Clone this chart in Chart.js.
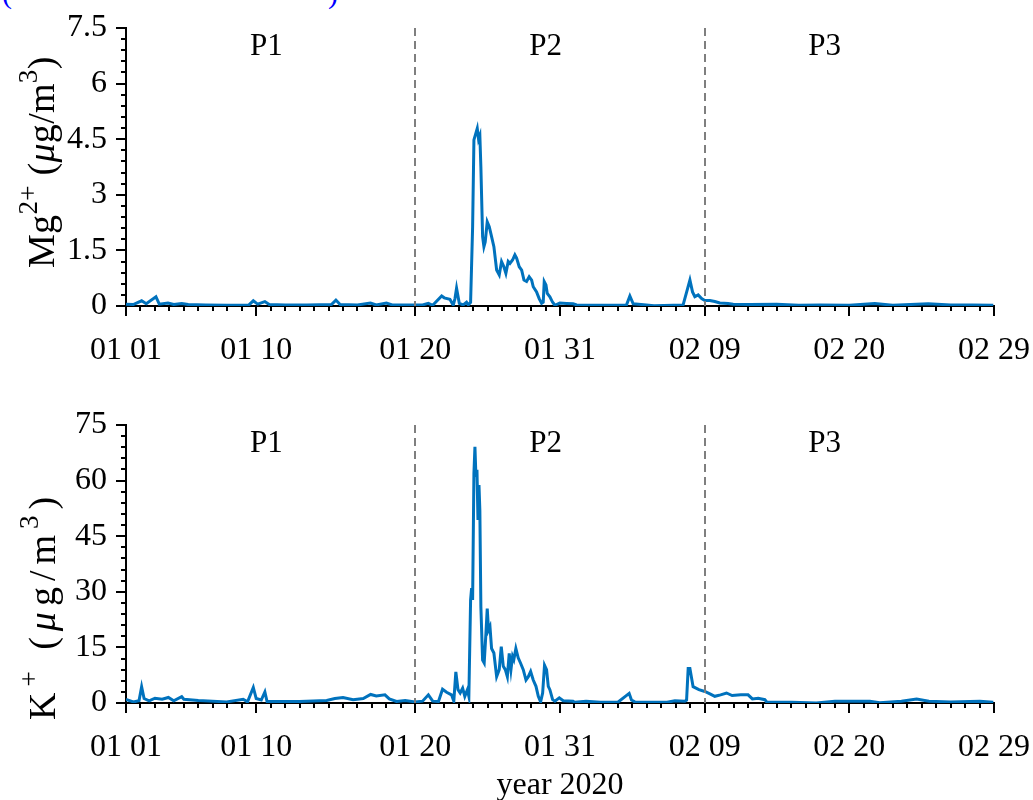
<!DOCTYPE html>
<html>
<head>
<meta charset="utf-8">
<script src="https://cdn.jsdelivr.net/npm/chart.js@4"></script>
<style>
  body { margin: 0; background: #fff; }
  #wrap { position: relative; width: 1033px; height: 800px; overflow: hidden; }
  canvas { position: absolute; left: 0; }
  #grafica1 { top: 0; }
  #grafica2 { top: 400px; }
  .frag { position: absolute; top: -24px; color: #0000ff; font: 30px "Liberation Serif", serif; }
</style>
</head>
<body>
<div id="wrap">
  <div class="frag" style="left:2px">(</div>
  <div class="frag" style="left:328px">)</div>
  <canvas id="grafica1" width="1033" height="400"></canvas>
  <canvas id="grafica2" width="1033" height="400"></canvas>
</div>
<script>
// eje x: dias desde 01 01
const tickDias = [0, 9, 20, 30, 40, 50, 60];
const tickEtiquetas = ['01 01', '01 10', '01 20', '01 31', '02 09', '02 20', '02 29'];
const periodosCortes = [20, 40];
const periodosNombres = ['P1', 'P2', 'P3'];
const periodosCentros = [9.7, 29.0, 48.3];

// Mg2+
const mgTicks = [0, 1.5, 3, 4.5, 6, 7.5];
const mgTickEtiquetas = ['0', '1.5', '3', '4.5', '6', '7.5'];
const mgDias = [0, 0.5, 1.08, 1.4, 2.07, 2.3, 2.9, 3.3, 3.85, 4.3, 5.5, 7, 8.5, 8.8, 9.1, 9.6, 9.9, 11, 12.5, 14.2, 14.51, 14.8, 16, 16.9, 17.3, 18.0, 18.4, 19.5, 20.5, 20.9, 21.2,
  21.82, 22.0, 22.39, 22.62, 22.74, 22.85, 23.04, 23.31, 23.54, 23.66, 23.82, 23.96, 24.05, 24.28, 24.37, 24.46, 24.53, 24.65, 24.74, 24.83, 24.97, 25.11, 25.27, 25.43,
  25.62, 25.8, 25.96, 26.12, 26.26, 26.42, 26.54, 26.72, 26.88, 27.0, 27.18, 27.35, 27.51, 27.69, 27.87, 28.04, 28.15, 28.38, 28.56, 28.73, 28.84, 28.91, 29.03, 29.12,
  29.3, 29.49, 29.65, 29.99, 30.46, 30.91, 31.15, 33, 34.6, 34.83, 35.06, 36.5, 38.51, 38.79, 38.98, 39.16, 39.32, 39.55, 39.79, 40.01, 40.36, 40.7, 41.05, 41.62, 41.97,
  43.12, 44.97, 46.5, 48, 50, 51.76, 53, 55.45, 57, 58.5, 59.95];
const mgValores = [0.05, 0.04, 0.14, 0.06, 0.25, 0.05, 0.08, 0.04, 0.07, 0.04, 0.03, 0.02, 0.03, 0.14, 0.05, 0.12, 0.04, 0.03, 0.03, 0.04, 0.16, 0.04, 0.03, 0.08, 0.03, 0.08, 0.03, 0.03, 0.03, 0.07, 0.02,
  0.27, 0.22, 0.18, 0.02, 0.2, 0.48, 0.07, 0.03, 0.1, 0.03, 0.1, 2.14, 4.48, 4.79, 4.5, 4.6, 3.76, 1.87, 1.6, 1.73, 2.27, 2.14, 1.87, 1.6,
  0.97, 0.84, 1.2, 1.06, 0.88, 1.2, 1.15, 1.24, 1.38, 1.29, 1.06, 0.97, 0.7, 0.66, 0.79, 0.7, 0.52, 0.38, 0.2, 0.07, 0.1, 0.66, 0.57, 0.34,
  0.25, 0.1, 0.02, 0.08, 0.07, 0.06, 0.03, 0.02, 0.03, 0.27, 0.06, 0.01, 0.03, 0.43, 0.7, 0.38, 0.25, 0.3, 0.2, 0.15, 0.15, 0.12, 0.08, 0.07, 0.05,
  0.04, 0.05, 0.02, 0.03, 0.02, 0.07, 0.02, 0.06, 0.03, 0.03, 0.02];

// K+
const kTicks = [0, 15, 30, 45, 60, 75];
const kTickEtiquetas = ['0', '15', '30', '45', '60', '75'];
const kDias = [0, 0.5, 0.9, 1.08, 1.25, 1.6, 2.0, 2.5, 2.93, 3.3, 3.85, 4.0, 5.0, 6.96, 8.1, 8.4, 8.8, 9.0, 9.35, 9.6, 9.75, 12.0, 13.87, 14.44, 15.0, 15.7, 16.4, 16.91, 17.3, 17.9,
  18.2, 18.7, 19.3, 19.97, 20.5, 20.9, 21.2, 21.6, 21.88, 22.16, 22.5, 22.66, 22.8, 22.95, 23.1, 23.27, 23.42, 23.6, 23.7, 23.82, 23.89, 23.96, 24.05, 24.12, 24.19,
  24.26, 24.33, 24.4, 24.46, 24.53, 24.65, 24.76, 24.88, 24.97, 25.06, 25.16, 25.27, 25.43, 25.62, 25.8, 25.94, 26.08, 26.22, 26.36, 26.49, 26.61, 26.72, 26.81,
  26.95, 27.11, 27.27, 27.46, 27.65, 27.81, 27.97, 28.15, 28.34, 28.5, 28.66, 28.8, 28.93, 29.07, 29.19, 29.3, 29.49, 29.65, 29.95, 30.22, 30.9, 31.0, 31.8, 32.8,
  34.0, 34.78, 34.94, 35.17, 37.4, 37.94, 38.63, 38.75, 38.86, 38.98, 39.2, 39.4, 39.6, 40.01, 40.4, 40.7, 41.1, 41.51, 41.9, 42.5, 43.0, 43.3, 43.7, 44.16, 44.3,
  46, 47.72, 49, 51.42, 52.1, 53.6, 54.65, 55.5, 57, 59.02, 59.95];
const kValores = [1.0, 0.3, 0.6, 4.4, 1.2, 0.6, 1.3, 1.0, 1.5, 0.6, 1.7, 1.0, 0.7, 0.3, 1.0, 0.3, 4.2, 1.2, 0.8, 3.0, 0.4, 0.4, 0.7, 1.2, 1.5, 0.9, 1.2, 2.3, 1.9, 2.2,
  1.1, 0.4, 0.7, 0.3, 0.5, 2.2, 0.5, 0.4, 3.7, 2.9, 2.2, 0.5, 8.4, 3.6, 2.7, 4.0, 1.8, 3.6, 1.8, 27.8, 31, 27.8, 61.9, 69.1, 61,
  62.9, 49.4, 58.8, 52, 26, 11.6, 10.8, 18.8, 25.5, 19.7, 20.6, 14.7, 13.5, 7.1, 9, 15.2, 9.9, 9, 7.1, 13.4, 9, 12.6, 11.7,
  14.7, 12.2, 10.8, 9, 6.2, 7.1, 8.5, 6.2, 4.5, 1.8, 0.3, 2.7, 10.2, 9, 4.5, 3.6, 0.9, 0.5, 1.4, 0.6, 0.5, 0.2, 0.5, 0.2,
  0.2, 2.6, 0.8, 0.3, 0.2, 0.6, 0.5, 0.8, 9.3, 9.3, 4.4, 4.0, 3.6, 3.1, 2.4, 1.8, 2.2, 2.7, 2.0, 2.2, 2.2, 1.1, 1.3, 0.9, 0.2,
  0.2, 0.0, 0.5, 0.5, 0.1, 0.5, 1.1, 0.5, 0.3, 0.5, 0.2];

const FUENTE = '"Liberation Serif", "Times New Roman", serif';

// marcas de los ejes, lineas de periodo, etiquetas P1..P3 y titulo del eje y
const ejesPlugin = {
  id: 'ejes',
  afterDatasetsDraw(chart, args, opts) {
    const ctx = chart.ctx;
    const xs = chart.scales.x;
    const area = chart.chartArea;
    ctx.save();
    ctx.strokeStyle = '#7f7f7f';
    ctx.lineWidth = 2;
    ctx.setLineDash([8, 5]);
    periodosCortes.forEach(d => {
      const px = Math.round(xs.getPixelForValue(d));
      ctx.beginPath();
      ctx.moveTo(px, area.top);
      ctx.lineTo(px, area.bottom);
      ctx.stroke();
    });
    ctx.restore();
  },
  afterDraw(chart, args, opts) {
    const ctx = chart.ctx;
    const xs = chart.scales.x, ys = chart.scales.y;
    const area = chart.chartArea;
    ctx.save();
    ctx.strokeStyle = '#000';
    ctx.lineWidth = 2;

    // x: marca menor cada dia
    for (let d = 0; d <= 60; d++) {
      const px = Math.round(xs.getPixelForValue(d));
      const largo = tickDias.includes(d) ? 10 : 5;
      ctx.beginPath();
      ctx.moveTo(px, area.bottom);
      ctx.lineTo(px, area.bottom + largo);
      ctx.stroke();
    }
    // y
    const n = Math.round(opts.yMax / opts.yMenor);
    for (let i = 0; i <= n; i++) {
      const py = Math.round(ys.getPixelForValue(i * opts.yMenor));
      const largo = i % 5 === 0 ? 10 : 5;
      ctx.beginPath();
      ctx.moveTo(area.left, py);
      ctx.lineTo(area.left - largo, py);
      ctx.stroke();
    }

    // P1 P2 P3
    ctx.fillStyle = '#000';
    ctx.font = '31px ' + FUENTE;
    ctx.textAlign = 'center';
    ctx.textBaseline = 'middle';
    periodosNombres.forEach((p, i) => {
      ctx.fillText(p, xs.getPixelForValue(periodosCentros[i]), area.top + 19);
    });

    // titulo eje y con superindices, letra por letra
    ctx.translate(opts.tituloX, opts.tituloY);
    ctx.rotate(-Math.PI / 2);
    ctx.textAlign = 'left';
    ctx.textBaseline = 'alphabetic';
    let x = 0;
    opts.titulo.forEach(parte => {
      const tam = parte.sup ? 27 : 38;
      ctx.font = (parte.it ? 'italic ' : '') + tam + 'px ' + FUENTE;
      for (const letra of parte.t) {
        ctx.fillText(letra, x, parte.sup ? -17 : 0);
        x += ctx.measureText(letra).width + opts.espacio;
      }
    });
    ctx.restore();
  }
};

function crearGrafica(id, dias, valores, cfg) {
  return new Chart(document.getElementById(id), {
    type: 'line',
    data: {
      datasets: [{
        data: dias.map((d, i) => ({ x: d, y: valores[i] })),
        borderColor: '#0072BD',
        borderWidth: 3,
        pointRadius: 0,
        tension: 0,
        fill: false
      }]
    },
    options: {
      responsive: false,
      animation: false,
      events: [],
      layout: { padding: { top: cfg.arriba, right: 39, left: 0, bottom: 0 } },
      plugins: {
        legend: { display: false },
        tooltip: { enabled: false },
        ejes: cfg
      },
      scales: {
        x: {
          type: 'linear',
          min: 0,
          max: 60,
          afterBuildTicks: s => { s.ticks = tickDias.map(v => ({ value: v })); },
          afterFit: s => {
            s.height = cfg.altoX;
            s.paddingLeft = 0;
            s.paddingRight = 0;
          },
          grid: { drawOnChartArea: false, drawTicks: false },
          border: { color: '#000', width: 2 },
          ticks: {
            padding: 25,
            color: '#000',
            maxRotation: 0,
            autoSkip: false,
            font: { family: FUENTE, size: 32 },
            callback: (v, i) => tickEtiquetas[i]
          },
          title: {
            display: cfg.tituloXVisible,
            text: 'year 2020',
            color: '#000',
            font: { family: FUENTE, size: 32 },
            padding: { top: 0, bottom: -5 }
          }
        },
        y: {
          type: 'linear',
          min: 0,
          max: cfg.yMax,
          afterBuildTicks: s => { s.ticks = cfg.yTicks.map(v => ({ value: v })); },
          afterFit: s => {
            s.width = 126;
            s.paddingTop = 0;
            s.paddingBottom = 0;
          },
          grid: { drawOnChartArea: false, drawTicks: false },
          border: { color: '#000', width: 2 },
          ticks: {
            padding: 19,
            color: '#000',
            font: { family: FUENTE, size: 32 },
            callback: (v, i) => cfg.yEtiquetas[i]
          }
        }
      }
    },
    plugins: [ejesPlugin]
  });
}

crearGrafica('grafica1', mgDias, mgValores, {
  arriba: 28, altoX: 94, yMax: 7.5, yMenor: 0.3,
  yTicks: mgTicks, yEtiquetas: mgTickEtiquetas,
  tituloXVisible: false,
  tituloX: 54, tituloY: 268, espacio: 0.3,
  titulo: [{ t: 'Mg' }, { t: '2+', sup: true }, { t: ' (' }, { t: 'μ', it: true }, { t: 'g/m' }, { t: '3', sup: true }, { t: ')' }]
});

crearGrafica('grafica2', kDias, kValores, {
  arriba: 25, altoX: 97, yMax: 75, yMenor: 3,
  yTicks: kTicks, yEtiquetas: kTickEtiquetas,
  tituloXVisible: true,
  tituloX: 55, tituloY: 320, espacio: 6,
  titulo: [{ t: 'K' }, { t: '+', sup: true }, { t: ' (' }, { t: 'μ', it: true }, { t: 'g/m' }, { t: '3', sup: true }, { t: ')' }]
});
</script>
</body>
</html>
